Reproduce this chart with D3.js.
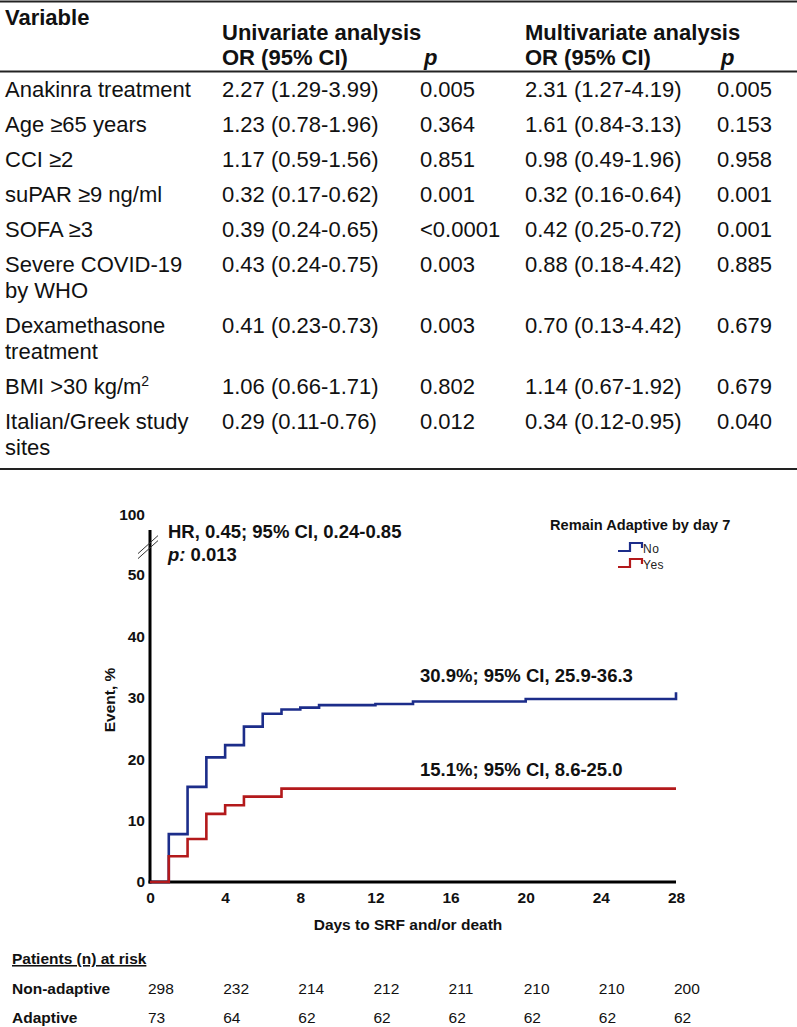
<!DOCTYPE html>
<html><head><meta charset="utf-8">
<script src="https://cdn.jsdelivr.net/npm/d3@7"></script>
<style>
body{margin:0;background:#fff;}
svg{display:block;font-family:"Liberation Sans",Arial,sans-serif;}
</style>
</head><body>
<svg id="c" width="797" height="1027"></svg>
<script>
// ---------- Table data ----------
const headerTop = ["Variable", "Univariate analysis", "Multivariate analysis"];
const headerSub = ["OR (95% CI)", "p", "OR (95% CI)", "p"];
const variables = [["Anakinra treatment"],["Age ≥65 years"],["CCI ≥2"],["suPAR ≥9 ng/ml"],["SOFA ≥3"],["Severe COVID-19","by WHO"],["Dexamethasone","treatment"],["BMI >30 kg/m^2"],["Italian/Greek study","sites"]];
const uniOR = ["2.27 (1.29-3.99)","1.23 (0.78-1.96)","1.17 (0.59-1.56)","0.32 (0.17-0.62)","0.39 (0.24-0.65)","0.43 (0.24-0.75)","0.41 (0.23-0.73)","1.06 (0.66-1.71)","0.29 (0.11-0.76)"];
const uniP = ["0.005","0.364","0.851","0.001","<0.0001","0.003","0.003","0.802","0.012"];
const multiOR = ["2.31 (1.27-4.19)","1.61 (0.84-3.13)","0.98 (0.49-1.96)","0.32 (0.16-0.64)","0.42 (0.25-0.72)","0.88 (0.18-4.42)","0.70 (0.13-4.42)","1.14 (0.67-1.92)","0.34 (0.12-0.95)"];
const multiP = ["0.005","0.153","0.958","0.001","0.001","0.885","0.679","0.679","0.040"];

// ---------- KM data ----------
const daysNo = [0,1,2,3,4,5,6,7,8,9,12,14,20,28];
const eventNo = [0,7.8,15.5,20.3,22.3,25.3,27.4,28.1,28.4,28.8,29.0,29.4,29.8,30.9];
const daysYes = [0,1,2,3,4,5,7,28];
const eventYes = [0,4.2,7.0,11.1,12.5,13.9,15.2,15.2];
const xTicks = [0,4,8,12,16,20,24,28];
const yTicks = [0,10,20,30,40,50,100];
const legendLabels = ["No","Yes"];
const riskTimes = [0,4,8,12,16,20,24,28];
const riskGroups = ["Non-adaptive","Adaptive"];
const riskNon = [298,232,214,212,211,210,210,200];
const riskAdaptive = [73,64,62,62,62,62,62,62];

const svg = d3.select("#c");
const ink = "#111";

// ================= TABLE =================
const colX = [5, 222, 420, 525, 717];
const tfs = 22;
const tbl = svg.append("g").attr("fill", ink).style("font-size", tfs + "px");

svg.append("line").attr("x1",0).attr("x2",797).attr("y1",1.5).attr("y2",1.5).attr("stroke","#222").attr("stroke-width",2);

tbl.append("text").attr("x", colX[0]).attr("y", 25).attr("font-weight","bold").text(headerTop[0]);
tbl.append("text").attr("x", colX[1]).attr("y", 40).attr("font-weight","bold").text(headerTop[1]);
tbl.append("text").attr("x", colX[3]).attr("y", 40).attr("font-weight","bold").text(headerTop[2]);
headerSub.forEach((h,i)=>{
  const t = tbl.append("text").attr("x", colX[i+1] + (h==="p" ? 4 : 0)).attr("y", 65).attr("font-weight","bold").text(h);
  if (h === "p") t.attr("font-style","italic");
});
svg.append("line").attr("x1",0).attr("x2",797).attr("y1",71.5).attr("y2",71.5).attr("stroke","#222").attr("stroke-width",2);

const rowStep = 35, lineStep = 26;
let base = 97;
variables.forEach((lines, i) => {
  lines.forEach((ln, j) => {
    const t = tbl.append("text").attr("x", colX[0]).attr("y", base + j*lineStep);
    if (ln.includes("^")) {
      const [a, b] = ln.split("^");
      t.append("tspan").text(a);
      t.append("tspan").attr("font-size", 14).attr("dy", -8).text(b);
    } else t.text(ln);
  });
  [uniOR[i], uniP[i], multiOR[i], multiP[i]].forEach((v, k) => {
    tbl.append("text").attr("x", colX[k+1]).attr("y", base).text(v);
  });
  base += rowStep + (lines.length - 1) * lineStep;
});
const tableBottom = base - rowStep + 14;
svg.append("line").attr("x1",0).attr("x2",797).attr("y1",tableBottom).attr("y2",tableBottom).attr("stroke","#222").attr("stroke-width",2);

// ================= KM CHART =================
const x = d3.scaleLinear().domain([0,28]).range([150,676]);
const y = d3.scaleLinear().domain([0,50,100]).range([882,575,515]);
const afs = 15.5;

// y axis
const gy = svg.append("g").attr("transform", `translate(${x(0)},0)`)
  .call(d3.axisLeft(y).tickValues(yTicks).tickSize(0).tickPadding(5));
gy.select(".domain").remove();
gy.selectAll("text").attr("font-family","Liberation Sans, Arial, sans-serif").attr("font-size",afs).attr("font-weight","bold").attr("fill",ink);
svg.append("line").attr("x1",x(0)).attr("x2",x(0)).attr("y1",y(0)+1.5).attr("y2",y(87.5)).attr("stroke","#000").attr("stroke-width",3);

// break marks
[0,5].forEach(o=>{
  svg.append("line").attr("x1",x(0)-12).attr("y1",y(72)+o+5).attr("x2",x(0)+8).attr("y2",y(72)+o-13)
    .attr("stroke","#333").attr("stroke-width",1);
});

// x axis
const gx = svg.append("g").attr("transform", `translate(0,${y(0)})`)
  .call(d3.axisBottom(x).tickValues(xTicks).tickSize(0).tickPadding(9.5));
gx.select(".domain").remove();
gx.selectAll("text").attr("font-family","Liberation Sans, Arial, sans-serif").attr("font-size",afs).attr("font-weight","bold").attr("fill",ink);
svg.append("line").attr("x1",x(0)-1.5).attr("x2",x(28)).attr("y1",y(0)).attr("y2",y(0)).attr("stroke","#000").attr("stroke-width",3);

// axis titles
svg.append("text").attr("x", (x(0)+x(28))/2 - 5).attr("y", 930).attr("text-anchor","middle")
  .attr("font-size",afs).attr("font-weight","bold").attr("fill",ink).text("Days to SRF and/or death");
svg.append("text").attr("transform","translate(115,700) rotate(-90)").attr("text-anchor","middle")
  .attr("font-size",afs).attr("font-weight","bold").attr("fill",ink).text("Event, %");

// step curves
const blue = "#1c2d8a", red = "#b3191b";
const line = d3.line().x(d=>x(d[0])).y(d=>y(d[1])).curve(d3.curveStepAfter);
svg.append("path").datum(daysNo.map((d,i)=>[d,eventNo[i]])).attr("d",line)
  .attr("fill","none").attr("stroke",blue).attr("stroke-width",2.6);
svg.append("path").datum(daysYes.map((d,i)=>[d,eventYes[i]])).attr("d",line)
  .attr("fill","none").attr("stroke",red).attr("stroke-width",2.6);

// annotations
const ann = svg.append("g").attr("fill",ink).attr("font-weight","bold").attr("font-size",18.5);
ann.append("text").attr("x",168).attr("y",538).text("HR, 0.45; 95% CI, 0.24-0.85");
const pt = ann.append("text").attr("x",168).attr("y",561);
pt.append("tspan").attr("font-style","italic").text("p:");
pt.append("tspan").text(" 0.013");
ann.append("text").attr("x",420).attr("y",682).text("30.9%; 95% CI, 25.9-36.3");
ann.append("text").attr("x",420).attr("y",776).text("15.1%; 95% CI, 8.6-25.0");

// legend
svg.append("text").attr("x",550).attr("y",530).attr("font-size",14.6).attr("font-weight","bold").attr("fill",ink).text("Remain Adaptive by day 7");
[[blue,551],[red,567]].forEach(([c,yy],i)=>{
  svg.append("path").attr("d",`M618,${yy}H630V${yy-8}H642V${yy-3}`).attr("fill","none").attr("stroke",c).attr("stroke-width",2.2);
  svg.append("text").attr("x",643).attr("y",yy+2).attr("font-size",12).attr("letter-spacing",0.5).attr("fill","#222").text(legendLabels[i]);
});

// ================= RISK TABLE =================
const rfs = 15.5;
svg.append("text").attr("x",12).attr("y",964).attr("font-size",rfs).attr("font-weight","bold").attr("fill",ink)
  .attr("text-decoration","underline").text("Patients (n) at risk");
[riskNon, riskAdaptive].forEach((arr,gi)=>{
  const yy = 994 + gi*29;
  svg.append("text").attr("x",12).attr("y",yy).attr("font-size",rfs).attr("font-weight","bold").attr("fill",ink).text(riskGroups[gi]);
  arr.forEach((v,k)=>{
    svg.append("text").attr("x",x(riskTimes[k])-2).attr("y",yy).attr("font-size",rfs).attr("fill",ink).text(v);
  });
});
</script>
</body></html>
